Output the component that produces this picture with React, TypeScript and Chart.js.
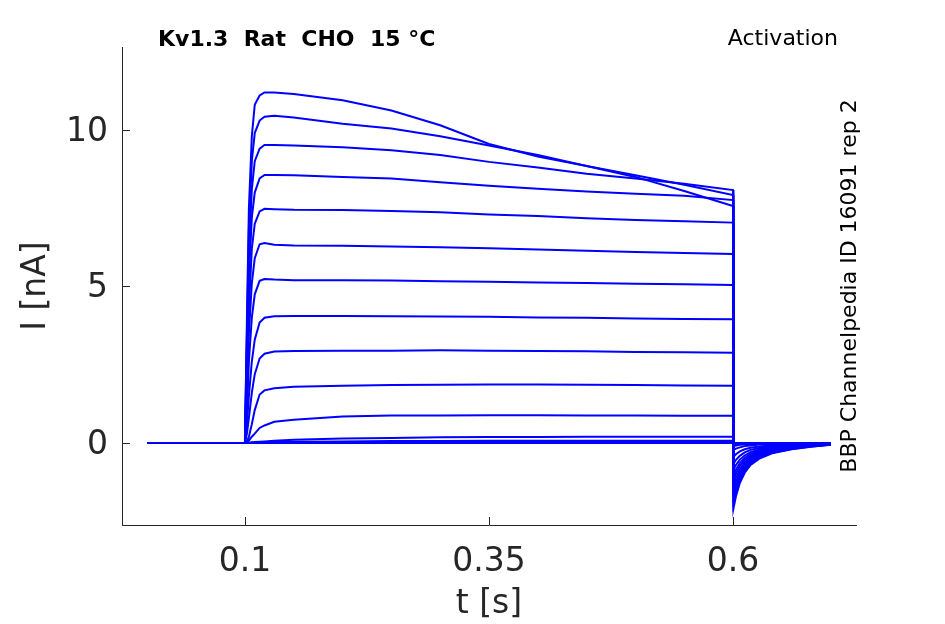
import { useEffect, useRef } from 'react';
import { Chart, registerables } from 'chart.js';

Chart.register(...registerables);

// sample times [s], shared by every sweep
const times = [0, 0.0995, 0.1, 0.102, 0.104, 0.107, 0.11, 0.115, 0.12, 0.13, 0.15, 0.2, 0.25, 0.3, 0.35, 0.4, 0.45, 0.5, 0.55, 0.6,
  0.6005, 0.603, 0.607, 0.612, 0.618, 0.627, 0.64, 0.66, 0.68, 0.7];

// current [nA] of each sweep, highest step first
const sweep1 = [0, 0, 0.2, 4.0, 7.5, 9.8, 10.8, 11.1, 11.2, 11.2, 11.15, 10.95, 10.62, 10.15, 9.55, 9.15, 8.85, 8.5, 8.05, 7.57,
  -2.08, -1.7, -1.28, -0.95, -0.7, -0.5, -0.33, -0.2, -0.12, -0.06];
const sweep2 = [0, 0, 0.2, 3.5, 6.8, 9.0, 9.9, 10.3, 10.42, 10.45, 10.4, 10.2, 10.05, 9.8, 9.5, 9.2, 8.85, 8.55, 8.25, 7.92,
  -1.95, -1.6, -1.2, -0.9, -0.66, -0.47, -0.31, -0.19, -0.11, -0.06];
const sweep3 = [0, 0, 0.15, 3.1, 6.0, 8.1, 9.0, 9.4, 9.52, 9.52, 9.5, 9.45, 9.35, 9.2, 8.98, 8.8, 8.6, 8.45, 8.28, 8.08,
  -1.82, -1.49, -1.13, -0.84, -0.62, -0.44, -0.29, -0.18, -0.1, -0.05];
const sweep4 = [0, 0, 0.12, 2.6, 5.3, 7.2, 8.0, 8.45, 8.56, 8.56, 8.55, 8.5, 8.45, 8.33, 8.22, 8.12, 8.03, 7.96, 7.9, 7.76,
  -1.68, -1.38, -1.04, -0.77, -0.57, -0.4, -0.27, -0.17, -0.1, -0.05];
const sweep5 = [0, 0, 0.1, 2.0, 4.3, 6.2, 7.0, 7.4, 7.48, 7.47, 7.45, 7.44, 7.41, 7.37, 7.3, 7.25, 7.18, 7.12, 7.08, 7.04,
  -1.52, -1.25, -0.94, -0.7, -0.52, -0.36, -0.24, -0.15, -0.09, -0.05];
const sweep6 = [0, 0, 0.08, 1.5, 3.5, 5.1, 5.9, 6.35, 6.39, 6.33, 6.31, 6.3, 6.28, 6.25, 6.22, 6.18, 6.14, 6.1, 6.07, 6.04,
  -1.36, -1.12, -0.84, -0.63, -0.46, -0.33, -0.22, -0.14, -0.08, -0.04];
const sweep7 = [0, 0, 0.05, 1.0, 2.6, 4.0, 4.75, 5.18, 5.24, 5.22, 5.2, 5.2, 5.19, 5.17, 5.15, 5.13, 5.11, 5.09, 5.07, 5.05,
  -1.2, -0.98, -0.74, -0.55, -0.41, -0.29, -0.19, -0.12, -0.07, -0.04];
const sweep8 = [0, 0, 0.03, 0.6, 1.5, 2.6, 3.3, 3.85, 4.0, 4.05, 4.06, 4.06, 4.05, 4.04, 4.03, 4.01, 4.0, 3.98, 3.96, 3.95,
  -1.04, -0.85, -0.64, -0.48, -0.35, -0.25, -0.17, -0.1, -0.06, -0.03];
const sweep9 = [0, 0, 0.02, 0.3, 0.8, 1.6, 2.2, 2.7, 2.85, 2.92, 2.94, 2.95, 2.95, 2.96, 2.95, 2.94, 2.93, 2.91, 2.9, 2.88,
  -0.86, -0.7, -0.53, -0.4, -0.29, -0.21, -0.14, -0.09, -0.05, -0.03];
const sweep10 = [0, 0, 0.01, 0.05, 0.2, 0.6, 1.05, 1.55, 1.68, 1.75, 1.8, 1.83, 1.85, 1.86, 1.87, 1.87, 1.86, 1.85, 1.84, 1.83,
  -0.66, -0.54, -0.41, -0.3, -0.22, -0.16, -0.11, -0.07, -0.04, -0.02];
const sweep11 = [0, 0, 0, 0.02, 0.08, 0.2, 0.3, 0.48, 0.56, 0.68, 0.74, 0.85, 0.88, 0.88, 0.89, 0.89, 0.88, 0.88, 0.87, 0.87,
  -0.44, -0.36, -0.27, -0.2, -0.15, -0.11, -0.07, -0.04, -0.03, -0.01];
const sweep12 = [0, 0, 0, 0, 0.01, 0.02, 0.03, 0.04, 0.05, 0.07, 0.1, 0.14, 0.16, 0.18, 0.19, 0.19, 0.2, 0.2, 0.2, 0.2,
  -0.22, -0.18, -0.14, -0.1, -0.08, -0.05, -0.04, -0.02, -0.01, -0.01];
const sweep13 = [0, 0, 0, 0, 0, 0.01, 0.01, 0.02, 0.02, 0.03, 0.04, 0.05, 0.06, 0.06, 0.07, 0.07, 0.07, 0.07, 0.07, 0.07,
  -0.1, -0.08, -0.06, -0.05, -0.03, -0.02, -0.02, -0.01, -0.01, 0];
const sweep14 = [0, 0, 0, 0, 0, 0, 0, 0.01, 0.01, 0.01, 0.02, 0.02, 0.02, 0.03, 0.03, 0.03, 0.03, 0.03, 0.03, 0.03,
  -0.04, -0.03, -0.03, -0.02, -0.01, -0.01, -0.01, 0, 0, 0];
const sweep15 = [0, 0, 0, 0, 0, 0, 0, 0, 0, 0, 0.01, 0.01, 0.01, 0.01, 0.01, 0.01, 0.01, 0.01, 0.01, 0.01,
  -0.02, -0.02, -0.01, -0.01, -0.01, 0, 0, 0, 0, 0];
const sweep16 = [0, 0, 0, 0, 0, 0, 0, 0, 0, 0, 0, 0, 0, 0, 0, 0, 0, 0, 0, 0,
  0, 0, 0, 0, 0, 0, 0, 0, 0, 0];

const sweeps = [sweep1, sweep2, sweep3, sweep4, sweep5, sweep6, sweep7, sweep8,
  sweep9, sweep10, sweep11, sweep12, sweep13, sweep14, sweep15, sweep16];

const xTicks = [0.1, 0.35, 0.6];
const yTicks = [0, 5, 10];

const titleText = 'Kv1.3  Rat  CHO  15 °C';
const protocolText = 'Activation';
const sourceText = 'BBP Channelpedia ID 16091 rep 2';

const AXIS_COLOR = '#262626';
const FONT = 'DejaVu Sans';

// matlab-style ticks pointing into the plot, plus the text annotations
const decorations = {
  id: 'decorations',
  afterDraw(chart: Chart) {
    const { ctx, chartArea, scales } = chart;
    ctx.save();
    ctx.strokeStyle = AXIS_COLOR;
    ctx.lineWidth = 1;
    ctx.beginPath();
    xTicks.forEach(v => {
      const px = Math.round(scales.x.getPixelForValue(v)) + 0.5;
      ctx.moveTo(px, chartArea.bottom);
      ctx.lineTo(px, chartArea.bottom - 8);
    });
    yTicks.forEach(v => {
      const py = Math.round(scales.y.getPixelForValue(v)) + 0.5;
      ctx.moveTo(chartArea.left, py);
      ctx.lineTo(chartArea.left + 8, py);
    });
    ctx.stroke();

    ctx.fillStyle = '#000';
    ctx.textBaseline = 'middle';
    ctx.font = `bold 22px "${FONT}"`;
    ctx.textAlign = 'left';
    ctx.fillText(titleText, 158, 40);
    ctx.font = `22px "${FONT}"`;
    ctx.textAlign = 'right';
    ctx.fillText(protocolText, 838, 39);

    ctx.translate(850, 286);
    ctx.rotate(-Math.PI / 2);
    ctx.textAlign = 'center';
    ctx.fillText(sourceText, 0, 0);
    ctx.restore();
  },
};

const App = () => {
  const canvasRef = useRef<HTMLCanvasElement>(null);
  const chartRef = useRef<Chart | null>(null);

  useEffect(() => {
    if (!canvasRef.current) return;
    if (chartRef.current) chartRef.current.destroy();

    const datasets = sweeps.map((values, i) => ({
      label: `sweep ${i + 1}`,
      data: times.map((t, j) => ({ x: t, y: values[j] })),
      borderColor: '#0000ff',
      borderWidth: 2,
      pointRadius: 0,
      tension: 0,
      fill: false,
    }));

    chartRef.current = new Chart(canvasRef.current, {
      type: 'line',
      data: { datasets },
      plugins: [decorations],
      options: {
        animation: false,
        responsive: true,
        maintainAspectRatio: false,
        layout: { padding: { top: 47, right: 89, left: 0, bottom: 0 } },
        plugins: {
          legend: { display: false },
          tooltip: { enabled: false },
        },
        scales: {
          x: {
            type: 'linear',
            min: -0.026,
            max: 0.726,
            afterBuildTicks: scale => {
              scale.ticks = xTicks.map(value => ({ value }));
            },
            afterFit: scale => {
              scale.height = 99;
            },
            grid: { display: false, drawTicks: false },
            border: { display: true, color: AXIS_COLOR, width: 1 },
            ticks: {
              color: AXIS_COLOR,
              font: { family: FONT, size: 33 },
              padding: 18,
              maxRotation: 0,
              callback: value => String(value),
            },
            title: {
              display: true,
              text: 't [s]',
              color: AXIS_COLOR,
              font: { family: FONT, size: 33 },
              padding: { top: 0, bottom: 0 },
            },
          },
          y: {
            type: 'linear',
            min: -2.62,
            max: 12.65,
            afterBuildTicks: scale => {
              scale.ticks = yTicks.map(value => ({ value }));
            },
            afterFit: scale => {
              scale.width = 122;
            },
            grid: { display: false, drawTicks: false },
            border: { display: true, color: AXIS_COLOR, width: 1 },
            ticks: {
              color: AXIS_COLOR,
              font: { family: FONT, size: 33 },
              padding: 14,
              labelOffset: 2,
              callback: value => String(value),
            },
            title: {
              display: true,
              text: 'I [nA]',
              color: AXIS_COLOR,
              font: { family: FONT, size: 33 },
              padding: { top: 17, bottom: 0 },
            },
          },
        },
      },
    });

    return () => {
      if (chartRef.current) {
        chartRef.current.destroy();
        chartRef.current = null;
      }
    };
  }, []);

  return (
    <div style={{ position: 'fixed', left: 0, top: 0, width: 945, height: 624, background: '#fff' }}>
      <canvas ref={canvasRef} />
    </div>
  );
};

export default App;
